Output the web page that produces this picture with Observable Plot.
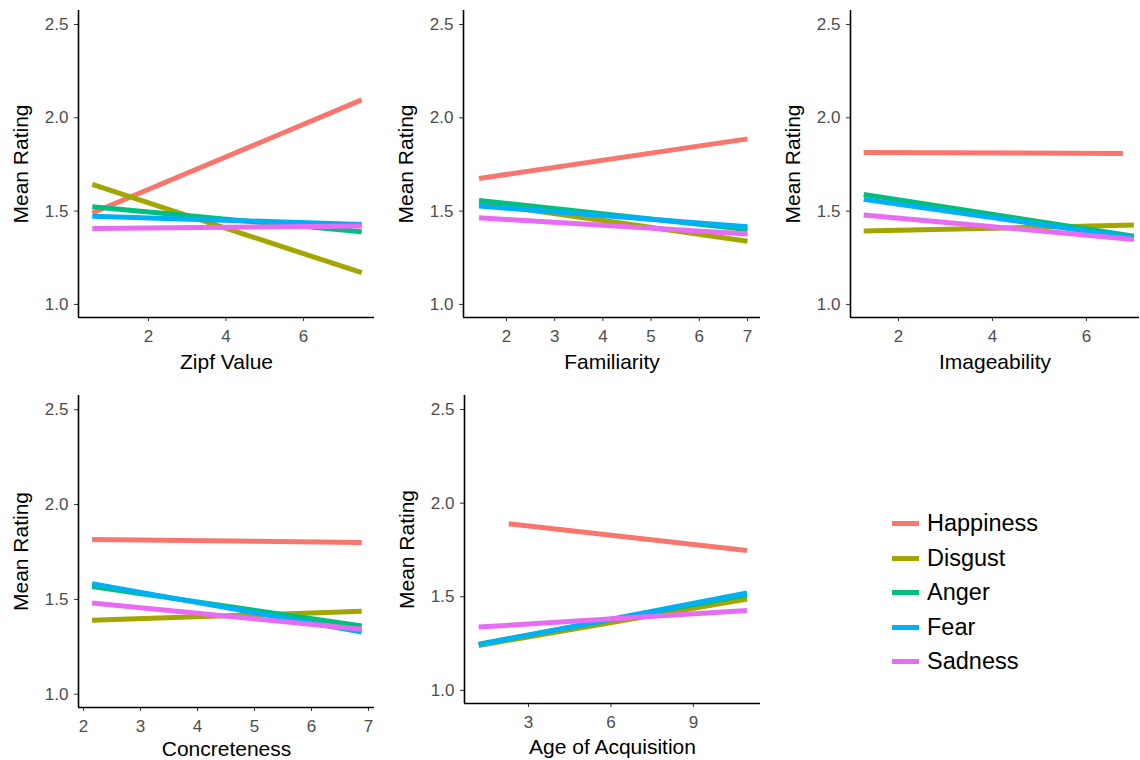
<!DOCTYPE html>
<html><head><meta charset="utf-8">
<script src="https://cdn.jsdelivr.net/npm/d3@7"></script>
<script src="https://cdn.jsdelivr.net/npm/@observablehq/plot@0.6"></script>
<style>
body{margin:0;background:#fff;font-family:"Liberation Sans",Arial,sans-serif;}
#wrap{position:relative;width:1140px;height:760px;overflow:hidden;background:#fff;}
.panel{position:absolute;}
.panel svg{overflow:visible;}
#legend{position:absolute;left:892px;top:506px;}
.row{position:absolute;left:0;height:34px;width:220px;}
.sw{position:absolute;left:0;top:15px;width:27px;height:5px;}
.lab{position:absolute;left:35px;top:3px;font-size:23.5px;line-height:28px;color:#000;white-space:nowrap;}
</style>
</head><body>
<div id="wrap"></div>
<script>
const emotions = ["Happiness", "Disgust", "Anger", "Fear", "Sadness"];
const colors = ["#F8766D", "#A3A500", "#00BF7D", "#00B0F6", "#E76BF3"];
const yDomain = [0.93, 2.575];
const yTicks = [1.0, 1.5, 2.0, 2.5];
const yLabel = "Mean Rating";

// rows: [emotion, xStart, yStart, xEnd, yEnd]
const zipfLines = [
  ["Happiness", 0.55, 1.49, 7.5, 2.096],
  ["Disgust", 0.55, 1.643, 7.5, 1.170],
  ["Anger", 0.55, 1.523, 7.5, 1.389],
  ["Fear", 0.55, 1.473, 7.5, 1.429],
  ["Sadness", 0.55, 1.407, 7.5, 1.42]
];
const familiarityLines = [
  ["Happiness", 1.43, 1.675, 7.0, 1.887],
  ["Disgust", 1.43, 1.545, 7.0, 1.339],
  ["Anger", 1.43, 1.557, 7.0, 1.402],
  ["Fear", 1.43, 1.527, 7.0, 1.416],
  ["Sadness", 1.43, 1.464, 7.0, 1.378]
];
const imageabilityLines = [
  ["Happiness", 1.26, 1.814, 6.78, 1.809],
  ["Disgust", 1.26, 1.393, 7.01, 1.425],
  ["Anger", 1.26, 1.589, 7.01, 1.366],
  ["Fear", 1.26, 1.563, 7.01, 1.357],
  ["Sadness", 1.26, 1.479, 7.01, 1.348]
];
const concretenessLines = [
  ["Happiness", 2.15, 1.816, 6.88, 1.80],
  ["Disgust", 2.15, 1.39, 6.88, 1.437],
  ["Anger", 2.15, 1.568, 6.88, 1.36],
  ["Fear", 2.15, 1.583, 6.88, 1.328],
  ["Sadness", 2.15, 1.481, 6.88, 1.342]
];
const aoaLines = [
  ["Happiness", 2.28, 1.89, 10.95, 1.747],
  ["Disgust", 1.19, 1.24, 10.95, 1.488],
  ["Anger", 1.19, 1.247, 10.95, 1.51],
  ["Fear", 1.19, 1.244, 10.95, 1.52],
  ["Sadness", 1.19, 1.338, 10.95, 1.427]
];

const panels = [
  {label: "Zipf Value", lines: zipfLines, xDomain: [0.194, 7.83], xTicks: [2, 4, 6],
   left: 0, top: 0, width: 380, mL: 78, mR: 6, mT: 10, mB: 63, xOff: 45},
  {label: "Familiarity", lines: familiarityLines, xDomain: [1.108, 7.27], xTicks: [2, 3, 4, 5, 6, 7],
   left: 380, top: 0, width: 385, mL: 83, mR: 5, mT: 10, mB: 63, xOff: 45},
  {label: "Imageability", lines: imageabilityLines, xDomain: [0.979, 7.13], xTicks: [2, 4, 6],
   left: 770, top: 0, width: 370, mL: 80, mR: 1, mT: 10, mB: 63, xOff: 45},
  {label: "Concreteness", lines: concretenessLines, xDomain: [1.912, 7.105], xTicks: [2, 3, 4, 5, 6, 7],
   left: 0, top: 380, width: 380, mL: 78, mR: 6, mT: 15, mB: 53, xOff: 42},
  {label: "Age of Acquisition", lines: aoaLines, xDomain: [0.673, 11.44], xTicks: [3, 6, 9],
   left: 380, top: 380, width: 385, mL: 84, mR: 5, mT: 15, mB: 57, xOff: 44}
];

const wrap = document.getElementById("wrap");
for (const p of panels) {
  const data = p.lines.map(([emotion, x1, y1, x2, y2]) => ({emotion, x1, y1, x2, y2}));
  const chart = Plot.plot({
    width: p.width, height: 380,
    marginLeft: p.mL, marginRight: p.mR, marginTop: p.mT, marginBottom: p.mB,
    style: {fontFamily: "'Liberation Sans', Arial, sans-serif", background: "transparent", overflow: "visible"},
    x: {domain: p.xDomain},
    y: {domain: yDomain},
    color: {domain: emotions, range: colors},
    marks: [
      Plot.link(data, {x1: "x1", y1: "y1", x2: "x2", y2: "y2", stroke: "emotion", strokeWidth: 5, strokeLinecap: "butt"}),
      Plot.axisX({ticks: p.xTicks, tickFormat: d3.format("d"), tickSize: 4, tickPadding: 8, stroke: "#333", fill: "#4d4d4d", fontSize: 17, label: null}),
      Plot.axisY({ticks: yTicks, tickFormat: d3.format(".1f"), tickSize: 4, tickPadding: 6, stroke: "#333", fill: "#4d4d4d", fontSize: 17, label: null}),
      Plot.ruleX([p.xDomain[0]], {stroke: "#000", strokeWidth: 1.6}),
      Plot.ruleY([yDomain[0]], {stroke: "#000", strokeWidth: 1.6}),
      Plot.text([p.label], {text: d => d, frameAnchor: "bottom", lineAnchor: "middle", dy: p.xOff, fontSize: 21, fill: "#000"}),
      Plot.text([yLabel], {text: d => d, frameAnchor: "left", textAnchor: "middle", lineAnchor: "middle", rotate: -90, dx: -57, fontSize: 21, fill: "#000"})
    ]
  });
  const div = document.createElement("div");
  div.className = "panel";
  div.style.left = p.left + "px";
  div.style.top = p.top + "px";
  div.appendChild(chart);
  wrap.appendChild(div);
}

// legend
const legend = document.createElement("div");
legend.id = "legend";
emotions.forEach((e, i) => {
  const row = document.createElement("div");
  row.className = "row";
  row.style.top = (i * 34.6) + "px";
  const sw = document.createElement("div");
  sw.className = "sw";
  sw.style.background = colors[i];
  const lab = document.createElement("div");
  lab.className = "lab";
  lab.textContent = e;
  row.appendChild(sw);
  row.appendChild(lab);
  legend.appendChild(row);
});
wrap.appendChild(legend);
</script>
</body></html>
